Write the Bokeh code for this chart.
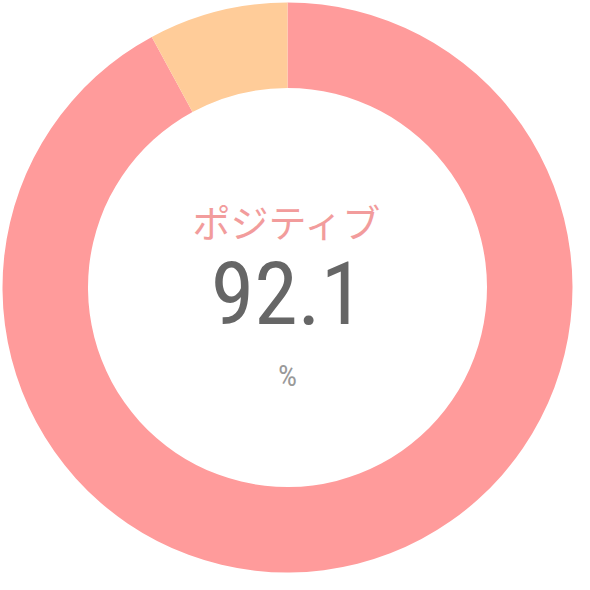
import numpy as np
from bokeh.plotting import figure
from bokeh.models import Range1d
from bokeh.core.properties import value
from bokeh.embed import file_html
from bokeh.resources import INLINE

# data
labels = ["ポジティブ", "ネガティブ"]
shares = [92.1, 7.9]
colors = ["#FF9B9B", "#FFCC99"]
center_label = "ポジティブ"
center_value = "92.1"
center_unit = "%"

W, H = 574, 574
R = 285  # half-size of the ring in screen pixels

p = figure(width=W, height=H, output_backend="svg", toolbar_location=None,
           x_range=Range1d(-W / 2, W / 2), y_range=Range1d(-H / 2, H / 2),
           min_border=0)
p.axis.visible = False
p.grid.visible = False
p.outline_line_color = None
p.background_fill_color = "white"

frac = np.array(shares) / sum(shares)
ends = np.pi / 2 - np.cumsum(frac) * 2 * np.pi
starts = np.concatenate([[np.pi / 2], ends[:-1]])
p.annular_wedge(x=0, y=0, inner_radius=R * 0.70, outer_radius=R,
                start_angle=starts, end_angle=ends, direction="clock",
                fill_color=colors, line_color=None)

num_font = value("'Roboto Condensed', 'Liberation Sans Narrow', Roboto, sans-serif")
p.text(x=[0], y=[67], text=[center_label], text_align="center", text_baseline="middle",
       text_font=value("Noto Sans CJK JP"), text_font_size="38px", text_color="#F29C9C")
p.text(x=[0], y=[-4.9], text=[center_value], text_align="center", text_baseline="middle",
       text_font=num_font, text_font_size="88px", text_color="#666666")
p.text(x=[0], y=[-87.5], text=[center_unit], text_align="center", text_baseline="middle",
       text_font=num_font, text_font_size="30px", text_color="#999999")

open("out.html", "w").write(file_html(p, INLINE))
